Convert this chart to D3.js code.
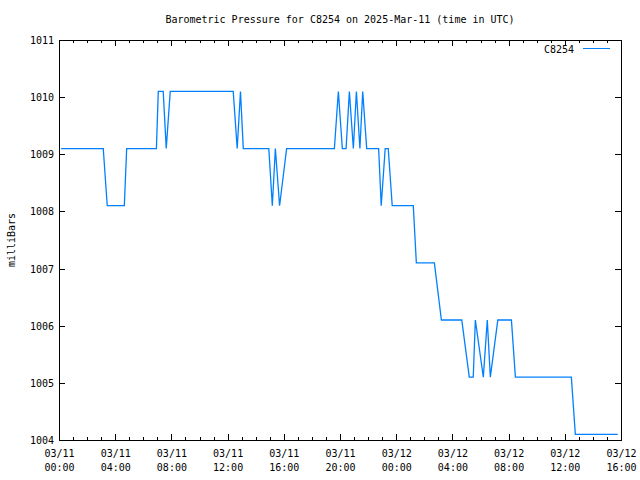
<!DOCTYPE html>
<html>
<head>
<meta charset="utf-8">
<script src="https://cdn.jsdelivr.net/npm/d3@7"></script>
<style>
  html, body { margin: 0; padding: 0; background: #fff; }
  svg { display: block; }
  text { font-family: "DejaVu Sans Mono", "Liberation Mono", monospace; font-size: 10px; fill: #000; }
</style>
</head>
<body>
<script>
// ---- data ----
const stationName = "C8254";
const titleText = "Barometric Pressure for C8254 on 2025-Mar-11 (time in UTC)";
const yLabel = "milliBars";
const obsTimes = [
  "2025-03-11 00:09", "2025-03-11 03:09", "2025-03-11 03:26", "2025-03-11 04:39",
  "2025-03-11 04:49", "2025-03-11 06:56", "2025-03-11 07:04", "2025-03-11 07:25",
  "2025-03-11 07:38", "2025-03-11 07:55", "2025-03-11 12:24", "2025-03-11 12:41",
  "2025-03-11 12:55", "2025-03-11 13:07", "2025-03-11 14:56", "2025-03-11 15:11",
  "2025-03-11 15:24", "2025-03-11 15:42", "2025-03-11 16:12", "2025-03-11 19:36",
  "2025-03-11 19:53", "2025-03-11 20:10", "2025-03-11 20:26", "2025-03-11 20:40",
  "2025-03-11 20:57", "2025-03-11 21:10", "2025-03-11 21:25", "2025-03-11 21:37",
  "2025-03-11 21:54", "2025-03-11 22:45", "2025-03-11 22:56", "2025-03-11 23:13",
  "2025-03-11 23:26", "2025-03-11 23:43", "2025-03-12 01:13", "2025-03-12 01:26",
  "2025-03-12 02:43", "2025-03-12 03:13", "2025-03-12 04:40", "2025-03-12 05:12",
  "2025-03-12 05:29", "2025-03-12 05:38", "2025-03-12 06:12", "2025-03-12 06:29",
  "2025-03-12 06:42", "2025-03-12 07:14", "2025-03-12 08:12", "2025-03-12 08:29",
  "2025-03-12 12:28", "2025-03-12 12:45", "2025-03-12 15:46"
];
const pressures = [
  1009.1, 1009.1, 1008.1, 1008.1,
  1009.1, 1009.1, 1010.1, 1010.1,
  1009.1, 1010.1, 1010.1, 1009.1,
  1010.1, 1009.1, 1009.1, 1008.1,
  1009.1, 1008.1, 1009.1, 1009.1,
  1010.1, 1009.1, 1009.1, 1010.1,
  1009.1, 1010.1, 1009.1, 1010.1,
  1009.1, 1009.1, 1008.1, 1009.1,
  1009.1, 1008.1, 1008.1, 1007.1,
  1007.1, 1006.1, 1006.1, 1005.1,
  1005.1, 1006.1, 1005.1, 1006.1,
  1005.1, 1006.1, 1006.1, 1005.1,
  1005.1, 1004.1, 1004.1
];
const xDomain = ["2025-03-11 00:00", "2025-03-12 16:00"];
const yTicks = [1004, 1005, 1006, 1007, 1008, 1009, 1010, 1011];

// ---- layout ----
const W = 640, H = 480;
const L = 59, R = 621, T = 40, B = 440;
const parse = d3.utcParse("%Y-%m-%d %H:%M");

const x = d3.scaleUtc().domain(xDomain.map(parse)).range([L, R]);
const y = d3.scaleLinear().domain([1004, 1011]).range([B, T]);

const svg = d3.select("body").append("svg").attr("width", W).attr("height", H);

// title
svg.append("text").attr("x", 340).attr("y", 23).attr("text-anchor", "middle").text(titleText);

// y label
svg.append("text").attr("transform", "translate(15,240) rotate(-90)")
  .attr("text-anchor", "middle").text(yLabel);

const axisG = svg.append("g").attr("shape-rendering", "crispEdges");

// major/minor time ticks
const majorTicks = x.ticks(d3.utcHour.every(4));
const minorTicks = x.ticks(d3.utcHour.every(1));

// bottom axis minor ticks
axisG.append("g").attr("transform", `translate(0,${B})`)
  .call(d3.axisBottom(x).tickValues(minorTicks).tickSize(-3).tickFormat("").tickSizeOuter(0))
  .call(g => g.select(".domain").remove());
// bottom axis major ticks + labels
const bx = axisG.append("g").attr("transform", `translate(0,${B})`)
  .call(d3.axisBottom(x).tickValues(majorTicks).tickSize(-6).tickSizeOuter(0).tickFormat(""))
  .call(g => g.select(".domain").remove());
bx.selectAll(".tick").each(function(d) {
  const t = d3.select(this).append("text").attr("fill", "#000").attr("text-anchor", "middle")
    .style("font-family", "DejaVu Sans Mono, Liberation Mono, monospace").style("font-size", "10px");
  t.append("tspan").attr("x", 0).attr("y", 17).text(d3.utcFormat("%m/%d")(d));
  t.append("tspan").attr("x", 0).attr("y", 31).text(d3.utcFormat("%H:%M")(d));
});

// top axis mirror ticks
axisG.append("g").attr("transform", `translate(0,${T})`)
  .call(d3.axisTop(x).tickValues(minorTicks).tickSize(-3).tickFormat("").tickSizeOuter(0))
  .call(g => g.select(".domain").remove());
axisG.append("g").attr("transform", `translate(0,${T})`)
  .call(d3.axisTop(x).tickValues(majorTicks).tickSize(-6).tickFormat("").tickSizeOuter(0))
  .call(g => g.select(".domain").remove());

// left axis
const ly = axisG.append("g").attr("transform", `translate(${L},0)`)
  .call(d3.axisLeft(y).tickValues(yTicks).tickSize(-6).tickSizeOuter(0).tickFormat(d3.format("d")))
  .call(g => g.select(".domain").remove());
ly.selectAll(".tick text").attr("x", -5).attr("dy", "0.35em")
  .style("font-family", "DejaVu Sans Mono, Liberation Mono, monospace").style("font-size", "10px");
// right axis mirror
axisG.append("g").attr("transform", `translate(${R},0)`)
  .call(d3.axisRight(y).tickValues(yTicks).tickSize(-6).tickSizeOuter(0).tickFormat(""))
  .call(g => g.select(".domain").remove());

// frame
axisG.append("rect").attr("x", L + 0.5).attr("y", T + 0.5).attr("width", R - L).attr("height", B - T)
  .attr("fill", "none").attr("stroke", "#000").attr("stroke-width", 1);

// data line
const data = obsTimes.map((t, i) => ({ t: parse(t), v: pressures[i] }));
const line = d3.line().x(d => x(d.t)).y(d => y(d.v));
svg.append("path").datum(data).attr("d", line)
  .attr("fill", "none").attr("stroke", "#0080ff").attr("stroke-width", 1.3);

// legend
svg.append("text").attr("x", 574).attr("y", 53).attr("text-anchor", "end").text(stationName);
svg.append("line").attr("x1", 583).attr("x2", 610).attr("y1", 48.5).attr("y2", 48.5)
  .attr("stroke", "#0080ff").attr("stroke-width", 1).attr("shape-rendering", "crispEdges");
</script>
</body>
</html>
